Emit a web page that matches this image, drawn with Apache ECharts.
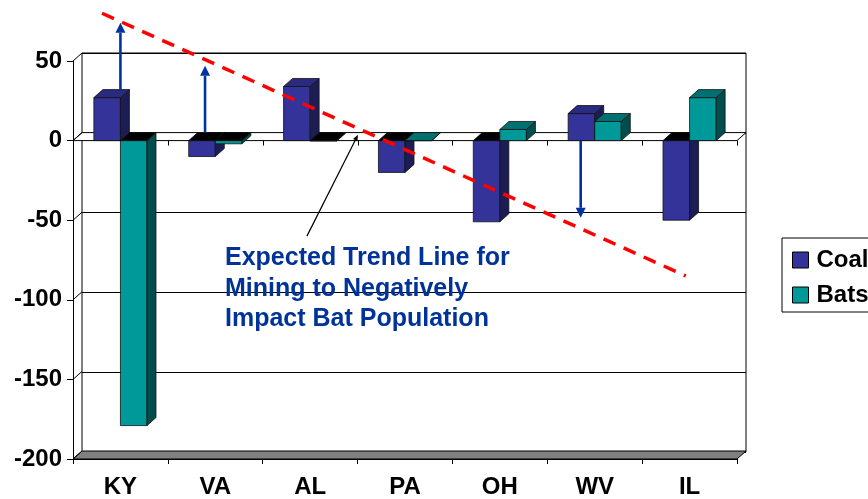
<!DOCTYPE html>
<html>
<head>
<meta charset="utf-8">
<script src="https://cdn.jsdelivr.net/npm/echarts@6/dist/echarts.min.js"></script>
<style>
  html, body { margin: 0; padding: 0; background: #fff; }
  #chart { width: 868px; height: 499px; }
</style>
</head>
<body>
<div id="chart"></div>
<script>
// Change by state: coal production vs. bat population
const categories = ['KY', 'VA', 'AL', 'PA', 'OH', 'WV', 'IL'];
const coalValues = [27, -10, 34, -20, -51, 17, -50];
const batsValues = [-179, -2, -0.3, 0, 7, 12, 27];
const valueTicks = [50, 0, -50, -100, -150, -200];

const FONT = "'Liberation Sans', Arial, sans-serif";
const DX = 9, DY = 8;          // depth offset of the 3D box
const BAR_FRAC = 0.28;         // bar width as a share of the category band
const yMax = valueTicks[0];
const yMin = valueTicks[valueTicks.length - 1];
const yStep = valueTicks[0] - valueTicks[1];

const COAL = { front: '#333399', side: '#1d1d55', top: '#2a2a80' };
const BATS = { front: '#009999', side: '#004d4d', top: '#007070' };

function toPairs(arr) { return arr.map((v, i) => [i, v]); }

// Extruded column: front face, right side face, top face
function barRenderer(side, col) {
  return function (params, api) {
    const i = api.value(0), v = api.value(1);
    const base = api.coord([i, 0]);
    const end = api.coord([i, v]);
    const bw = api.size([1, 0])[0];
    const w = bw * BAR_FRAC;
    const x0 = side < 0 ? base[0] - w : base[0];
    const x1 = x0 + w;
    const yTop = Math.min(base[1], end[1]);
    const yBot = Math.max(base[1], end[1]);
    const edge = { stroke: '#111', lineWidth: 0.8 };
    return {
      type: 'group',
      children: [
        { type: 'rect', shape: { x: x0, y: yTop, width: w, height: yBot - yTop },
          style: Object.assign({ fill: col.front }, edge) },
        { type: 'polygon', shape: { points: [[x1, yTop], [x1, yBot], [x1 + DX, yBot - DY], [x1 + DX, yTop - DY]] },
          style: Object.assign({ fill: col.side }, edge) },
        { type: 'polygon', shape: { points: [[x0, yTop], [x1, yTop], [x1 + DX, yTop - DY], [x0 + DX, yTop - DY]] },
          style: Object.assign({ fill: v < 0 ? '#000' : col.top }, edge) }
      ]
    };
  };
}

// Floor, zero plane and side-wall edges of the 3D box
function frameRenderer(params, api) {
  const cs = params.coordSys;
  const x = cs.x, w = cs.width;
  const bw = w / categories.length;
  const y0 = api.coord([0, 0])[1];
  const yb = api.coord([0, yMin])[1];
  const line = { stroke: '#000', lineWidth: 1 };
  const kids = [];
  // floor
  kids.push({ type: 'polygon', shape: { points: [[x, yb], [x + w, yb], [x + w + DX, yb - DY], [x + DX, yb - DY]] },
    style: { fill: '#808080', stroke: '#000', lineWidth: 1 } });
  // zero plane
  kids.push({ type: 'polygon', shape: { points: [[x, y0], [x + w, y0], [x + w + DX, y0 - DY], [x + DX, y0 - DY]] },
    style: { fill: '#fff', stroke: '#000', lineWidth: 1 } });
  for (let k = 1; k <= categories.length; k++) {
    const tx = Math.round(x + k * bw) + 0.5;
    kids.push({ type: 'line', shape: { x1: tx, y1: y0, x2: tx, y2: y0 + 5 }, style: line });
  }
  // left wall edges at each value tick
  valueTicks.forEach(v => {
    const yv = api.coord([0, v])[1];
    kids.push({ type: 'line', shape: { x1: x, y1: yv, x2: x + DX, y2: yv - DY }, style: line });
  });
  return { type: 'group', children: kids };
}

// Trend line, arrows and pointer, placed in (category position, value) space
const trendLine = [[-0.194, 80], [5.96, -85]];
const changeArrows = [
  [[0, 32], [0, 74]],
  [[0.892, 5], [0.892, 47]],
  [[4.852, 0], [4.852, -48.5]]
];
const pointer = [[1.966, -60], [2.504, 3.6]];

function arrowShape(p, q, color, width, headLen, headHalf) {
  const dx = q[0] - p[0], dy = q[1] - p[1];
  const len = Math.sqrt(dx * dx + dy * dy);
  const ux = dx / len, uy = dy / len;
  const bx = q[0] - ux * headLen, by = q[1] - uy * headLen;
  return [
    { type: 'line', shape: { x1: p[0], y1: p[1], x2: bx, y2: by }, style: { stroke: color, lineWidth: width } },
    { type: 'polygon', shape: { points: [[q[0], q[1]], [bx - uy * headHalf, by + ux * headHalf], [bx + uy * headHalf, by - ux * headHalf]] },
      style: { fill: color } }
  ];
}

function annotationRenderer(params, api) {
  const cs = params.coordSys;
  const bw = cs.width / categories.length;
  // continuous position along the category axis (0 = centre of first band)
  const at = pt => [cs.x + (pt[0] + 0.5) * bw, api.coord([0, pt[1]])[1]];
  const kids = [];
  const a = at(trendLine[0]), b = at(trendLine[1]);
  kids.push({ type: 'line', shape: { x1: a[0], y1: a[1], x2: b[0], y2: b[1] },
    style: { stroke: '#ff0000', lineWidth: 3.5, lineDash: [13, 9] } });
  changeArrows.forEach(ar => {
    arrowShape(at(ar[0]), at(ar[1]), '#0033a0', 2.6, 10, 5).forEach(s => kids.push(s));
  });
  arrowShape(at(pointer[0]), at(pointer[1]), '#000', 1.2, 6, 2.5).forEach(s => kids.push(s));
  return { type: 'group', children: kids };
}

const chart = echarts.init(document.getElementById('chart'), null, { renderer: 'canvas' });

const valueAxisBase = { type: 'value', min: yMin, max: yMax, interval: yStep };

chart.setOption({
  animation: false,
  backgroundColor: '#fff',
  textStyle: { fontFamily: FONT },
  grid: [
    { left: 73, right: 131, top: 61, bottom: 39, show: false },
    { left: 73 + DX, right: 131 - DX, top: 61 - DY, bottom: 39 + DY, show: true,
      backgroundColor: '#fff', borderColor: '#000', borderWidth: 1, z: 0 }
  ],
  xAxis: [
    { type: 'category', gridIndex: 0, data: categories, boundaryGap: true,
      axisLine: { onZero: false, lineStyle: { color: '#000', width: 1 } },
      axisTick: { show: true, length: 5, lineStyle: { color: '#000' } },
      axisLabel: { margin: 16, color: '#000', fontSize: 24, fontWeight: 'bold', fontFamily: FONT },
      splitLine: { show: false } },
    { type: 'category', gridIndex: 1, data: categories, show: false }
  ],
  yAxis: [
    Object.assign({ gridIndex: 0 }, valueAxisBase, {
      axisLine: { show: true, lineStyle: { color: '#000', width: 1 } },
      axisTick: { show: true, length: 6, lineStyle: { color: '#000' } },
      axisLabel: { margin: 11, color: '#000', fontSize: 24, fontWeight: 'bold', fontFamily: FONT },
      splitLine: { show: false } }),
    Object.assign({ gridIndex: 1 }, valueAxisBase, {
      axisLine: { show: false }, axisTick: { show: false }, axisLabel: { show: false },
      splitLine: { show: true, lineStyle: { color: '#000', width: 1 } } })
  ],
  legend: {
    data: ['Coal', 'Bats'],
    orient: 'vertical',
    left: 782, top: 238,
    padding: [10, 40, 5, 10],
    itemGap: 11,
    itemWidth: 16, itemHeight: 16,
    icon: 'rect',
    borderColor: '#000', borderWidth: 1, backgroundColor: '#fff',
    itemStyle: { borderColor: '#000', borderWidth: 1 },
    textStyle: { color: '#000', fontSize: 24, fontWeight: 'bold', fontFamily: FONT, padding: [0, 0, 0, 3] }
  },
  graphic: [
    { type: 'text', left: 225, top: 243, z: 20,
      style: { text: 'Expected Trend Line for\nMining to Negatively\nImpact Bat Population',
        fill: '#003399', font: "bold 25px 'Liberation Sans', Arial, sans-serif", lineHeight: 30.5 } }
  ],
  series: [
    { type: 'custom', name: 'frame', xAxisIndex: 0, yAxisIndex: 0, data: [[0, 0]],
      renderItem: frameRenderer, silent: true, z: 1 },
    { type: 'custom', name: 'Coal', xAxisIndex: 0, yAxisIndex: 0, data: toPairs(coalValues),
      itemStyle: { color: COAL.front, borderColor: '#000', borderWidth: 1 },
      renderItem: barRenderer(-1, COAL), z: 2 },
    { type: 'custom', name: 'Bats', xAxisIndex: 0, yAxisIndex: 0, data: toPairs(batsValues),
      itemStyle: { color: BATS.front, borderColor: '#000', borderWidth: 1 },
      renderItem: barRenderer(1, BATS), z: 3 },
    { type: 'custom', name: 'notes', xAxisIndex: 0, yAxisIndex: 0, data: [[0, 0]],
      renderItem: annotationRenderer, silent: true, z: 10 }
  ]
});
</script>
</body>
</html>
